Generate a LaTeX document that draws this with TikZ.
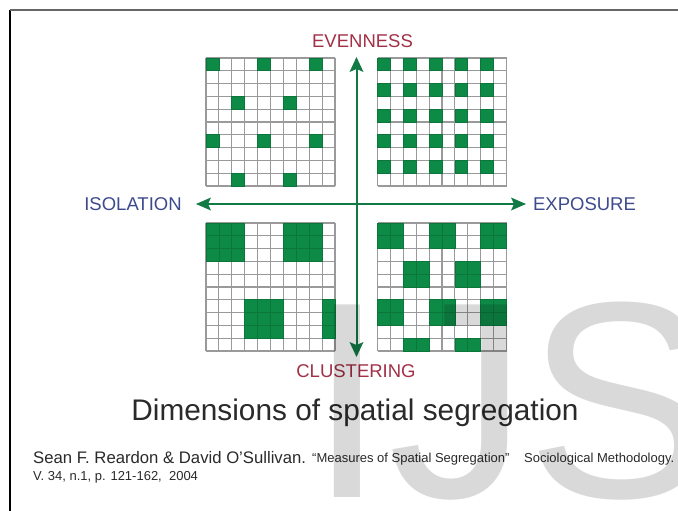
\documentclass[tikz,border=0pt]{standalone}
\usepackage{fontspec}
\setmainfont{Liberation Sans}
\definecolor{cellgreen}{HTML}{0E8A47}
\definecolor{axisgreen}{HTML}{117A45}
\definecolor{gridgrey}{HTML}{9A9A9A}
\definecolor{labelred}{HTML}{A23046}
\definecolor{labelblue}{HTML}{3E4A8E}
\definecolor{texgrey}{HTML}{2A2A2A}
\tikzset{
  axis/.style={draw=axisgreen,line width=2pt},
  tip/.style={fill=axisgreen,draw=none},
  gridline/.style={draw=gridgrey,line width=1.1pt},
  cell/.style={fill=cellgreen,draw=cellgreen!85!black,line width=.7pt},
  redlabel/.style={text=labelred,font=\fontsize{18.5}{20}\selectfont,inner sep=0pt},
  bluelabel/.style={text=labelblue,font=\fontsize{18.5}{20}\selectfont,inner sep=0pt},
  wm/.style={inner sep=0pt,anchor=base west,text=black,text opacity=.15,font=\fontsize{280}{280}\selectfont},
}
% #1 = x0, #2 = y0, #3 = list of col/row of green cells
\newcommand{\cellgrid}[3]{%
  \foreach \i in {0,...,10}{
    \draw[gridline] ({#1+\i*12.9},#2) -- ++(0,128);
    \draw[gridline] (#1,{#2+\i*12.8}) -- ++(129,0);
  }
  \foreach \c/\r in {#3}{
    \filldraw[cell] ({#1+\c*12.9},{#2+\r*12.8}) rectangle ++(12.9,12.8);
  }
}
\begin{document}
\begin{tikzpicture}[x=1pt,y=-1pt]
\useasboundingbox (0,0) rectangle (678,511);
\fill[white] (0,0) rectangle (678,511);
\draw[black,line width=1.4pt] (10,511) -- (10,10);
\draw[black!60,line width=2pt] (9.5,10.5) -- (678,10.5);

\cellgrid{206}{58}{0/0,4/0,8/0,2/3,6/3,0/6,4/6,8/6,2/9,6/9}
\cellgrid{377.5}{58}{0/0,2/0,4/0,6/0,8/0,0/2,2/2,4/2,6/2,8/2,0/4,2/4,4/4,6/4,8/4,0/6,2/6,4/6,6/6,8/6,0/8,2/8,4/8,6/8,8/8}
\cellgrid{206}{223}{0/0,1/0,2/0,0/1,1/1,2/1,0/2,1/2,2/2,6/0,7/0,8/0,6/1,7/1,8/1,6/2,7/2,8/2,3/6,4/6,5/6,3/7,4/7,5/7,3/8,4/8,5/8,9/6,9/7,9/8}
\cellgrid{377.5}{223}{0/0,1/0,4/0,5/0,8/0,9/0,0/1,1/1,4/1,5/1,8/1,9/1,2/3,3/3,6/3,7/3,2/4,3/4,6/4,7/4,0/6,1/6,4/6,5/6,8/6,9/6,0/7,1/7,4/7,5/7,8/7,9/7,2/9,3/9,6/9,7/9}

\coordinate (n) at (356.5,57);
\coordinate (s) at (356.5,357);
\coordinate (w) at (196,204);
\coordinate (e) at (526,204);
\draw[axis] (356.5,68) -- (356.5,347);
\draw[axis] (206,204) -- (516,204);
\fill[tip] (n) -- (363.5,72) -- (356.5,69) -- (349.5,72) -- cycle;
\fill[tip] (s) -- (363.5,342) -- (356.5,345) -- (349.5,342) -- cycle;
\fill[tip] (w) -- (211,197.5) -- (208,204) -- (211,210.5) -- cycle;
\fill[tip] (e) -- (511,197.5) -- (514,204) -- (511,210.5) -- cycle;

\node[redlabel] (ev) at (362.5,41.5) {EVENNESS};
\node[redlabel] (cl) at (356,371.5) {CLUSTERING};
\node[bluelabel] (is) at (133,204) {ISOLATION};
\node[bluelabel] (ex) at (584.5,204) {EXPOSURE};

\node[inner sep=0pt,anchor=base,text=texgrey,font=\fontsize{29.8}{32}\selectfont] (title) at (355,420) {Dimensions of spatial segregation};
\node[inner sep=0pt,anchor=base west,text=texgrey,font=\fontsize{16.7}{18}\selectfont] (a1) at (33,463) {Sean F. Reardon \& David O'Sullivan.};
\node[inner sep=0pt,anchor=base west,text=texgrey,font=\fontsize{13}{14}\selectfont] (a2) at (312,462) {``Measures of Spatial Segregation''};
\node[inner sep=0pt,anchor=base west,text=texgrey,font=\fontsize{13}{14}\selectfont] (a3) at (524,462) {Sociological Methodology.};
\node[inner sep=0pt,anchor=base west,text=texgrey,font=\fontsize{13}{14}\selectfont] (a4) at (33,480) {V. 34, n.1, p. 121-162,\ \ 2004};

\begin{scope}
\clip (0,0) rectangle (678,511);
\node[wm] (wi) at (308,497) {I};
\node[wm] (wj) at (388,497) {J};
\node[wm] (ws) at (526,497) {S};
\end{scope}
\end{tikzpicture}
\end{document}
